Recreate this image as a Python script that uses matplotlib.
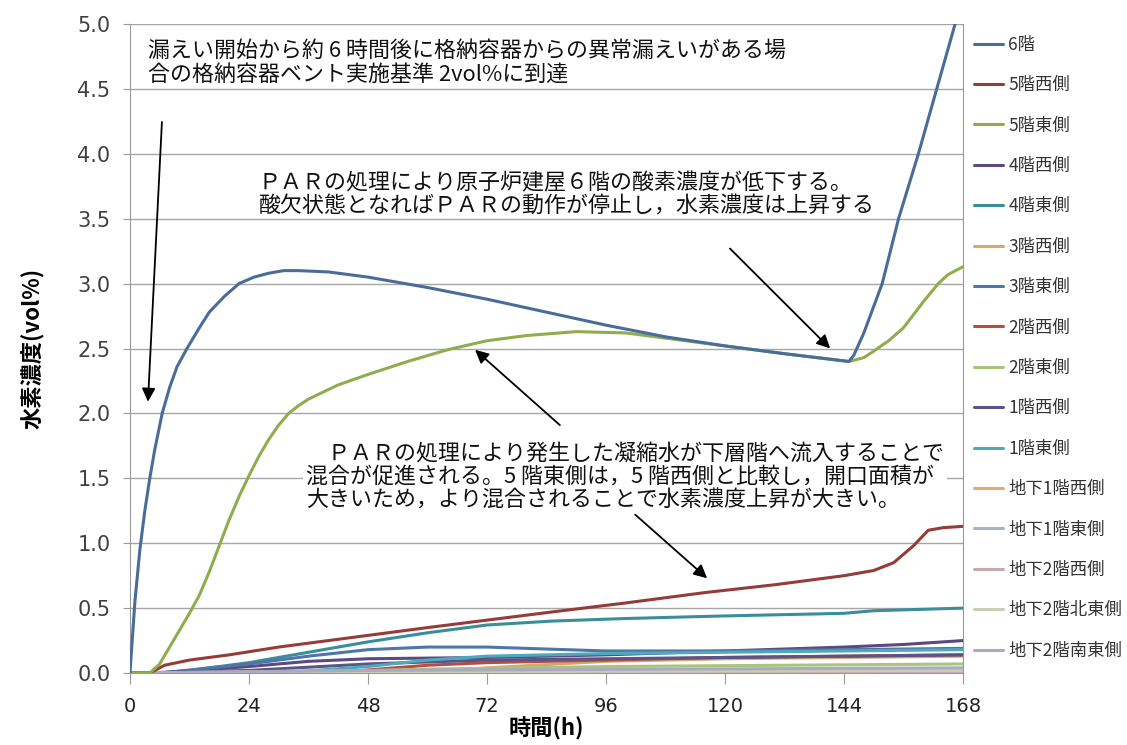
import matplotlib
matplotlib.use('Agg')
import matplotlib.pyplot as plt

plt.rcParams['font.family'] = ['Noto Sans CJK JP', 'DejaVu Sans']

# 各階の水素濃度（vol%）  時間(h), 濃度
t_6f = [0, 1, 2, 3, 4, 5, 6.5, 8, 9.5, 11.5, 14, 16, 19, 22, 25, 28, 31, 34, 40, 48, 60, 72, 84, 96, 108, 120, 132, 145,
        146, 148, 151.7, 155, 159, 162.7, 166.4, 168]
v_6f = [0, 0.55, 0.95, 1.25, 1.5, 1.72, 2.0, 2.2, 2.36, 2.5, 2.66, 2.78, 2.9, 3.0, 3.05, 3.08, 3.1, 3.1, 3.09, 3.05, 2.97, 2.88, 2.78, 2.68, 2.59, 2.52, 2.46, 2.4,
        2.45, 2.62, 3.0, 3.5, 4.0, 4.5, 5.0, 5.2]

t_5w = [0, 4, 7, 12, 20, 30, 48, 60, 85, 100, 116, 130, 144, 150, 154, 158, 161, 164, 168]
v_5w = [0, 0, 0.06, 0.1, 0.14, 0.2, 0.29, 0.35, 0.47, 0.54, 0.62, 0.68, 0.75, 0.79, 0.85, 0.98, 1.1, 1.12, 1.13]

t_5e = [0, 4, 6, 8, 10, 12, 14, 16, 18, 20, 22, 24, 26, 28, 30, 32, 34, 36, 42, 48, 56, 64, 72, 80, 90, 100, 108, 120, 132, 145,
        148, 150, 153, 156, 158, 160, 163, 165, 168]
v_5e = [0, 0, 0.07, 0.2, 0.33, 0.46, 0.6, 0.78, 0.98, 1.18, 1.36, 1.52, 1.67, 1.8, 1.91, 2.0, 2.06, 2.11, 2.22, 2.3, 2.4, 2.49, 2.56, 2.6, 2.63, 2.62, 2.58, 2.52, 2.46, 2.4,
        2.43, 2.48, 2.56, 2.66, 2.76, 2.86, 3.0, 3.07, 3.13]

t_4w = [0, 6, 24, 36, 48, 72, 96, 120, 144, 156, 168]
v_4w = [0, 0, 0.05, 0.09, 0.11, 0.12, 0.14, 0.17, 0.2, 0.22, 0.25]

t_4e = [0, 6, 12, 24, 36, 48, 60, 72, 85, 100, 120, 144, 150, 168]
v_4e = [0, 0, 0.02, 0.08, 0.16, 0.24, 0.31, 0.37, 0.4, 0.42, 0.44, 0.46, 0.48, 0.5]

t_3w = [0, 60, 72, 96, 120, 144, 168]
v_3w = [0, 0, 0.04, 0.09, 0.11, 0.12, 0.13]

t_3e = [0, 6, 24, 36, 48, 60, 72, 96, 120, 144, 168]
v_3e = [0, 0, 0.07, 0.13, 0.18, 0.2, 0.2, 0.17, 0.17, 0.18, 0.19]

t_2w = [0, 40, 50, 60, 72, 96, 120, 144, 168]
v_2w = [0, 0, 0.03, 0.06, 0.08, 0.1, 0.12, 0.13, 0.14]

t_2e = [0, 30, 60, 96, 168]
v_2e = [0, 0, 0.03, 0.05, 0.07]

t_1w = [0, 24, 48, 72, 96, 120, 168]
v_1w = [0, 0.02, 0.07, 0.1, 0.11, 0.12, 0.14]

t_1e = [0, 30, 48, 60, 72, 96, 120, 144, 168]
v_1e = [0, 0, 0.05, 0.1, 0.13, 0.15, 0.16, 0.17, 0.18]

t_b1w = [0, 48, 168]
v_b1w = [0, 0.01, 0.02]
t_b1e = [0, 48, 168]
v_b1e = [0, 0.02, 0.03]
t_b2w = [0, 48, 168]
v_b2w = [0, 0.005, 0.01]
t_b2ne = [0, 48, 168]
v_b2ne = [0, 0.01, 0.02]
t_b2se = [0, 48, 168]
v_b2se = [0, 0.02, 0.04]

series = [
    ('6階', t_6f, v_6f, '#4a6c98'),
    ('5階西側', t_5w, v_5w, '#953c3a'),
    ('5階東側', t_5e, v_5e, '#90ad4e'),
    ('4階西側', t_4w, v_4w, '#5b4a80'),
    ('4階東側', t_4e, v_4e, '#3a8e9a'),
    ('3階西側', t_3w, v_3w, '#dba46a'),
    ('3階東側', t_3e, v_3e, '#4f76a8'),
    ('2階西側', t_2w, v_2w, '#b84c40'),
    ('2階東側', t_2e, v_2e, '#a9c47c'),
    ('1階西側', t_1w, v_1w, '#5a5488'),
    ('1階東側', t_1e, v_1e, '#4eaabb'),
    ('地下1階西側', t_b1w, v_b1w, '#eaa86a'),
    ('地下1階東側', t_b1e, v_b1e, '#a8b2c0'),
    ('地下2階西側', t_b2w, v_b2w, '#c6aab0'),
    ('地下2階北東側', t_b2ne, v_b2ne, '#c6ceb6'),
    ('地下2階南東側', t_b2se, v_b2se, '#acaabe'),
]

x_ticks = [0, 24, 48, 72, 96, 120, 144, 168]
y_ticks = [0.0, 0.5, 1.0, 1.5, 2.0, 2.5, 3.0, 3.5, 4.0, 4.5, 5.0]

fig = plt.figure(figsize=(11.27, 7.45), dpi=100)
ax = fig.add_axes([0.1153, 0.0966, 0.7392, 0.8712])

# 下の系列から順に描いて上位の線を前面に
handles = []
for name, t, v, c in series:
    ln, = ax.plot(t, v, color=c, lw=2.2, label=name, solid_capstyle='round', solid_joinstyle='round')
    handles.append(ln)
for ln in handles[::-1]:
    ln.set_zorder(3)
handles[0].set_zorder(5)
handles[2].set_zorder(4)
handles[1].set_zorder(4)

ax.set_xlim(0, 168)
ax.set_ylim(0, 5.0)
ax.set_xticks(x_ticks)
ax.set_yticks(y_ticks)
ax.set_yticklabels(['%.1f' % y for y in y_ticks])
ax.grid(axis='y', color='#a6a6a6', lw=1.0)
ax.set_axisbelow(True)
for s in ['left', 'right', 'bottom']:
    ax.spines[s].set_color('#9a9a9a')
ax.spines['top'].set_visible(False)
ax.tick_params(axis='y', direction='out', length=5, color='#9a9a9a', labelsize=15, labelcolor='#404040', pad=9)
ax.tick_params(axis='x', direction='out', length=8, color='#9a9a9a', labelsize=14, labelcolor='#222222', pad=9)
for lab in ax.get_xticklabels() + ax.get_yticklabels():
    lab.set_family(['DejaVu Sans'])

ax.set_xlabel('時間(h)', fontsize=16, fontweight='bold', labelpad=1)
ax.set_ylabel('水素濃度(vol%)', fontsize=16, fontweight='bold', labelpad=24)

fig.legend(handles=handles, loc='upper left', bbox_to_anchor=(0.864, 0.952), frameon=False,
           fontsize=12.5, handlelength=1.7, handletextpad=0.3, labelspacing=1.29,
           borderpad=0, borderaxespad=0, labelcolor='#333333')

# 注記
fs = 15.8
ax.text(3.6, 4.88, '漏えい開始から約 6 時間後に格納容器からの異常漏えいがある場\n合の格納容器ベント実施基準 2vol%に到達',
        fontsize=fs, va='top', ha='left', linespacing=1.1, color='#111111')
ax.text(26.0, 3.86, 'ＰＡＲの処理により原子炉建屋６階の酸素濃度が低下する。\n酸欠状態となればＰＡＲの動作が停止し，水素濃度は上昇する',
        fontsize=fs, va='top', ha='left', linespacing=1.12, color='#111111')
ax.text(35.5, 1.77, '　ＰＡＲの処理により発生した凝縮水が下層階へ流入することで\n混合が促進される。5 階東側は，5 階西側と比較し，開口面積が\n大きいため，より混合されることで水素濃度上昇が大きい。',
        fontsize=fs, va='top', ha='left', linespacing=1.08, color='#111111', zorder=6,
        bbox=dict(facecolor='white', edgecolor='none', pad=2))

arrows = [
    ((6.45, 4.245), (3.63, 2.09)),
    ((121.0, 3.27), (141.2, 2.50)),
    ((86.7, 1.91), (69.6, 2.49)),
    ((101.9, 1.22), (116.4, 0.73)),
]
for start, end in arrows:
    ax.annotate('', xy=end, xytext=start, zorder=7,
                arrowprops=dict(arrowstyle='-|>', color='black', lw=1.3, mutation_scale=20,
                                shrinkA=0, shrinkB=0))

fig.savefig('out.png', dpi=100)
